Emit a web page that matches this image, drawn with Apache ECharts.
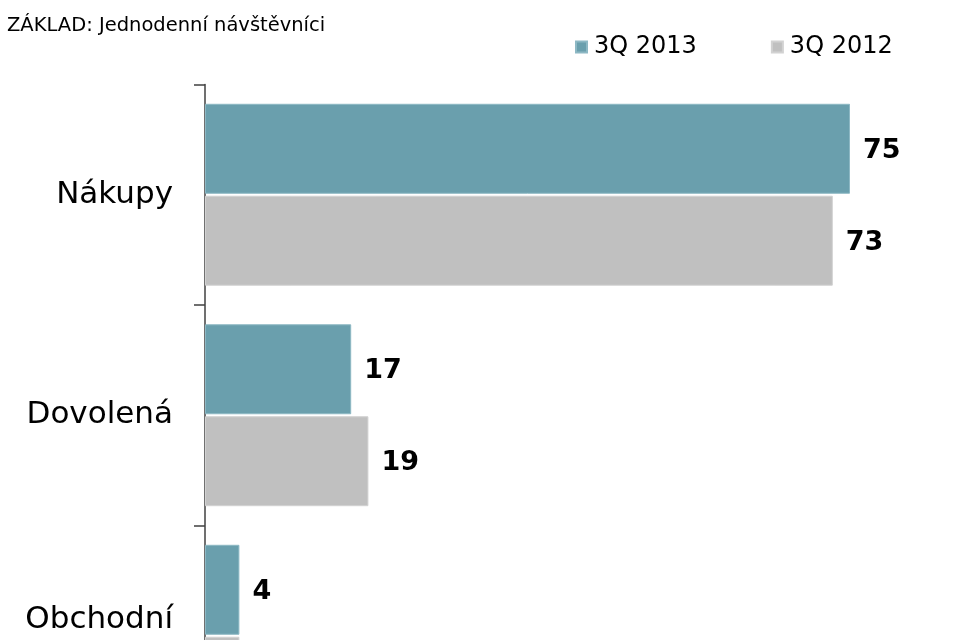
<!DOCTYPE html>
<html><head><meta charset="utf-8">
<script src="https://cdn.jsdelivr.net/npm/echarts@6/dist/echarts.min.js"></script>
<style>html,body{margin:0;padding:0;overflow:hidden;background:#fff;}#c{width:964px;height:800px;}</style>
</head><body><div id="c"></div>
<script>
const categories = ['Nákupy', 'Dovolená', 'Obchodní'];
const seriesNames = ['3Q 2013', '3Q 2012'];
const values2013 = [75, 17, 4];
const values2012 = [73, 19, 4];
const titleText = 'ZÁKLAD: Jednodenní návštěvníci';

const chart = echarts.init(document.getElementById('c'), null, {renderer: 'canvas'});
const font = 'DejaVu Sans, Verdana, sans-serif';
const labelCfg = {show: true, position: 'right', distance: 13, offset: [0, 2], color: '#000', fontWeight: 'bold', fontSize: 27, fontFamily: font};
chart.setOption({
  animation: false,
  title: {text: titleText, left: 2, top: 11, textStyle: {fontSize: 19.5, fontWeight: 'normal', color: '#000', fontFamily: font}},
  legend: {
    data: seriesNames, top: 35, left: 575, padding: 0, itemWidth: 11, itemHeight: 11, itemGap: 74,
    icon: 'rect', textStyle: {fontSize: 24, color: '#000', fontFamily: font, padding: [0,0,0,2]}
  },
  grid: {left: 205, right: 71, top: 84.5, bottom: 54, containLabel: false},
  xAxis: {type: 'value', min: 0, max: 80, show: false},
  yAxis: {
    type: 'category', data: categories, inverse: true,
    axisLine: {show: true, lineStyle: {color: '#404040', width: 1.5}},
    axisTick: {show: true, length: 11, lineStyle: {color: '#404040', width: 1.5}},
    axisLabel: {
      fontSize: 31, color: '#000', fontFamily: font, margin: 32,
      formatter: (v, i) => i === categories.length - 1 ? '{low|' + v + '}' : '{n|' + v + '}',
      rich: {
        n: {fontSize: 31, color: '#000', fontFamily: font},
        low: {fontSize: 31, color: '#000', fontFamily: font, padding: [0, 0, 32, 0]}
      }
    }
  },
  series: [
    {name: seriesNames[0], type: 'bar', data: values2013, barCategoryGap: '17.5%', barGap: '2.2%',
     itemStyle: {color: '#6A9FAD', borderColor: '#8DB8C4', borderWidth: 1}, label: labelCfg},
    {name: seriesNames[1], type: 'bar', data: values2012,
     itemStyle: {color: '#C0C0C0', borderColor: '#D2D2D2', borderWidth: 1}, label: labelCfg}
  ]
});
</script></body></html>
